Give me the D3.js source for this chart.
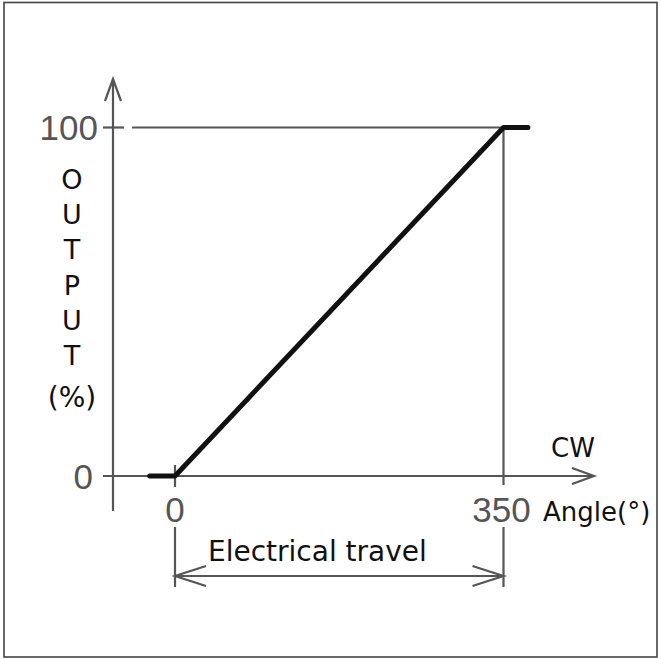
<!DOCTYPE html>
<html>
<head>
<meta charset="utf-8">
<script src="https://cdn.jsdelivr.net/npm/d3@7/dist/d3.min.js"></script>
<style>
  body { margin: 0; background: #fff; }
  svg { display: block; }
</style>
</head>
<body>
<div id="chart"></div>
<script>
// values
var angleTicks = [0, 350];
var outputTicks = [0, 100];
var curveAngle = [-27, 0, 350, 376];
var curveOutput = [0, 0, 100, 100];
var yLetters = ["O", "U", "T", "P", "U", "T"];

var width = 661, height = 659;

var svg = d3.select("#chart")
  .append("svg")
  .attr("width", width)
  .attr("height", height);

var x = d3.scaleLinear().domain([0, 350]).range([175, 503.5]);
var y = d3.scaleLinear().domain([0, 100]).range([476, 127.5]);

var grey = "#555";

// outer frame
svg.append("rect")
  .attr("x", 4).attr("y", 2.5)
  .attr("width", 653).attr("height", 654.5)
  .attr("fill", "none")
  .attr("stroke", "#444")
  .attr("stroke-width", 1.6);

var g = svg.append("g")
  .attr("fill", "none")
  .attr("stroke", grey)
  .attr("stroke-width", 2.2);

// y axis with arrow
g.append("line").attr("x1", 113).attr("x2", 113).attr("y1", 79).attr("y2", 511);
g.append("path").attr("d", "M105,101 L113,79 L121,101");

// x axis with arrow
g.append("line").attr("x1", 103).attr("x2", 594).attr("y1", y(0)).attr("y2", y(0));
g.append("path").attr("d", "M572," + (y(0) - 8) + " L594," + y(0) + " L572," + (y(0) + 8));

// 100 % tick and guide line
g.append("line").attr("x1", 103).attr("x2", 124).attr("y1", y(100)).attr("y2", y(100));
g.append("line").attr("x1", 132).attr("x2", x(376)).attr("y1", y(100)).attr("y2", y(100));

// vertical guides at 0 and 350
g.append("line").attr("x1", x(0)).attr("x2", x(0)).attr("y1", 465).attr("y2", 487);
g.append("line").attr("x1", x(350)).attr("x2", x(350)).attr("y1", y(100)).attr("y2", 485);
angleTicks.forEach(function(d) {
  g.append("line").attr("x1", x(d)).attr("x2", x(d)).attr("y1", 527).attr("y2", 587);
});

// dimension line "Electrical travel"
var dimY = 576;
g.append("line").attr("x1", x(0)).attr("x2", x(350)).attr("y1", dimY).attr("y2", dimY);
g.append("path").attr("d", "M" + (x(0) + 31) + "," + (dimY - 10) + " L" + x(0) + "," + dimY + " L" + (x(0) + 31) + "," + (dimY + 10));
g.append("path").attr("d", "M" + (x(350) - 31) + "," + (dimY - 10) + " L" + x(350) + "," + dimY + " L" + (x(350) - 31) + "," + (dimY + 10));

// output curve
var line = d3.line()
  .x(function(d, i) { return x(curveAngle[i]); })
  .y(function(d) { return y(d); });

svg.append("path")
  .datum(curveOutput)
  .attr("d", line)
  .attr("fill", "none")
  .attr("stroke", "#111")
  .attr("stroke-width", 5)
  .attr("stroke-linejoin", "round")
  .attr("stroke-linecap", "round");

// tick labels (grey digits)
svg.selectAll(".ylab")
  .data(outputTicks)
  .enter().append("text")
  .attr("class", "ylab")
  .attr("x", function(d) { return d == 100 ? 98 : 93; })
  .attr("y", function(d) { return y(d) + 12.5; })
  .attr("text-anchor", "end")
  .attr("font-family", "Liberation Sans")
  .attr("font-size", 35)
  .attr("fill", "#555")
  .text(function(d) { return d; });

svg.selectAll(".xlab")
  .data(angleTicks)
  .enter().append("text")
  .attr("class", "xlab")
  .attr("x", function(d) { return x(d) - (d == 350 ? 2 : 0); })
  .attr("y", 522)
  .attr("text-anchor", "middle")
  .attr("font-family", "Liberation Sans")
  .attr("font-size", 35)
  .attr("fill", "#555")
  .text(function(d) { return d; });

// black labels
var txt = svg.append("g")
  .attr("font-family", "DejaVu Sans")
  .attr("fill", "#111");

txt.selectAll(".yl")
  .data(yLetters)
  .enter().append("text")
  .attr("x", 72)
  .attr("y", function(d, i) { return 189 + i * 35.2; })
  .attr("text-anchor", "middle")
  .attr("font-size", 27)
  .text(function(d) { return d; });

txt.append("text").attr("x", 72).attr("y", 407)
  .attr("text-anchor", "middle").attr("font-size", 28).text("(%)");

txt.append("text").attr("x", 551).attr("y", 457)
  .attr("font-size", 26).text("CW");

txt.append("text").attr("x", 543).attr("y", 521)
  .attr("font-size", 26).text("Angle(°)");

txt.append("text").attr("x", 208).attr("y", 561)
  .attr("font-size", 28).text("Electrical travel");
</script>
</body>
</html>
